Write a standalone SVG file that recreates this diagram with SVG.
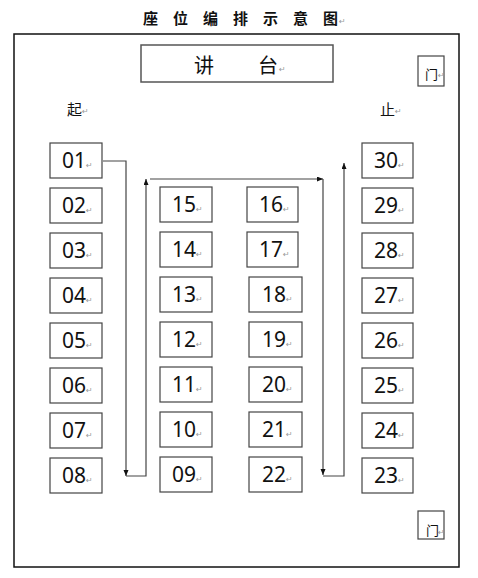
<svg xmlns="http://www.w3.org/2000/svg" width="478" height="578" viewBox="0 0 478 578">
<style>
.seat rect{fill:#fff;stroke:#444;stroke-width:1.2}
.seat text{font-family:"Noto Sans","DejaVu Sans",sans-serif;font-size:21px;fill:#111}
.rm{font-family:"DejaVu Sans",sans-serif;font-size:8px;fill:#999}
.cjk{font-family:"Noto Sans CJK SC","Noto Sans",sans-serif;fill:#111}
.conn path{fill:none;stroke:#444;stroke-width:1.2}
</style>
<defs>
<marker id="ah" markerUnits="userSpaceOnUse" markerWidth="7" markerHeight="6" refX="6" refY="2.5" orient="auto">
<path d="M0,0 L6,2.5 L0,5 z" fill="#111"/>
</marker>
</defs>
<rect width="478" height="578" fill="#fff"/>
<g id="title">
<text class="cjk" y="24" font-size="15" font-weight="bold"><tspan x="143">座</tspan><tspan x="173">位</tspan><tspan x="203">编</tspan><tspan x="233">排</tspan><tspan x="263">示</tspan><tspan x="293">意</tspan><tspan x="323">图</tspan></text>
<text class="rm" x="339" y="24">↵</text>
</g>
<rect id="frame" x="14" y="34" width="445" height="533" fill="none" stroke="#111" stroke-width="1.5"/>
<g id="podium">
<rect x="141" y="45" width="192" height="37" fill="#fff" stroke="#555" stroke-width="1.5"/>
<text class="cjk" font-size="20" y="73"><tspan x="194">讲</tspan><tspan x="258">台</tspan></text>
<text class="rm" x="279" y="72">↵</text>
</g>
<g id="door-top">
<rect x="418" y="56" width="26" height="30" fill="#fff" stroke="#444" stroke-width="1.2"/>
<text class="cjk" font-size="13" x="425" y="79">门</text>
<text class="rm" x="438" y="78">↵</text>
</g>
<g id="door-bottom">
<rect x="418" y="511" width="26" height="28" fill="#fff" stroke="#444" stroke-width="1.2"/>
<text class="cjk" font-size="13" x="426" y="535">门</text>
<text class="rm" x="438" y="535">↵</text>
</g>
<g id="start">
<text class="cjk" font-size="15" x="67" y="115">起</text>
<text class="rm" x="82" y="114">↵</text>
</g>
<g id="end">
<text class="cjk" font-size="15" x="380" y="115">止</text>
<text class="rm" x="395" y="114">↵</text>
</g>
<g class="seat" id="s01"><rect x="50" y="143" width="52" height="35"/><text x="62" y="168">01<tspan class="rm">↵</tspan></text></g>
<g class="seat" id="s02"><rect x="50" y="188" width="52" height="35"/><text x="62" y="213">02<tspan class="rm">↵</tspan></text></g>
<g class="seat" id="s03"><rect x="50" y="233" width="52" height="35"/><text x="62" y="258">03<tspan class="rm">↵</tspan></text></g>
<g class="seat" id="s04"><rect x="50" y="278" width="52" height="35"/><text x="62" y="303">04<tspan class="rm">↵</tspan></text></g>
<g class="seat" id="s05"><rect x="50" y="323" width="52" height="35"/><text x="62" y="348">05<tspan class="rm">↵</tspan></text></g>
<g class="seat" id="s06"><rect x="50" y="368" width="52" height="35"/><text x="62" y="393">06<tspan class="rm">↵</tspan></text></g>
<g class="seat" id="s07"><rect x="50" y="413" width="52" height="35"/><text x="62" y="438">07<tspan class="rm">↵</tspan></text></g>
<g class="seat" id="s08"><rect x="50" y="458" width="52" height="35"/><text x="62" y="483">08<tspan class="rm">↵</tspan></text></g>
<g class="seat" id="s15"><rect x="160" y="187" width="52" height="35"/><text x="172" y="212">15<tspan class="rm">↵</tspan></text></g>
<g class="seat" id="s14"><rect x="160" y="232" width="52" height="35"/><text x="172" y="257">14<tspan class="rm">↵</tspan></text></g>
<g class="seat" id="s13"><rect x="160" y="277" width="52" height="35"/><text x="172" y="302">13<tspan class="rm">↵</tspan></text></g>
<g class="seat" id="s12"><rect x="160" y="322" width="52" height="35"/><text x="172" y="347">12<tspan class="rm">↵</tspan></text></g>
<g class="seat" id="s11"><rect x="160" y="367" width="52" height="35"/><text x="172" y="392">11<tspan class="rm">↵</tspan></text></g>
<g class="seat" id="s10"><rect x="160" y="412" width="52" height="35"/><text x="172" y="437">10<tspan class="rm">↵</tspan></text></g>
<g class="seat" id="s09"><rect x="160" y="457" width="52" height="35"/><text x="172" y="482">09<tspan class="rm">↵</tspan></text></g>
<g class="seat" id="s16"><rect x="247" y="187" width="51" height="35"/><text x="259" y="212">16<tspan class="rm">↵</tspan></text></g>
<g class="seat" id="s17"><rect x="247" y="232" width="51" height="35"/><text x="259" y="257">17<tspan class="rm">↵</tspan></text></g>
<g class="seat" id="s18"><rect x="249" y="277" width="53" height="35"/><text x="262" y="302">18<tspan class="rm">↵</tspan></text></g>
<g class="seat" id="s19"><rect x="249" y="322" width="53" height="35"/><text x="262" y="347">19<tspan class="rm">↵</tspan></text></g>
<g class="seat" id="s20"><rect x="249" y="367" width="53" height="35"/><text x="262" y="392">20<tspan class="rm">↵</tspan></text></g>
<g class="seat" id="s21"><rect x="249" y="412" width="53" height="35"/><text x="262" y="437">21<tspan class="rm">↵</tspan></text></g>
<g class="seat" id="s22"><rect x="249" y="457" width="53" height="35"/><text x="262" y="482">22<tspan class="rm">↵</tspan></text></g>
<g class="seat" id="s30"><rect x="362" y="143" width="51" height="35"/><text x="374" y="168">30<tspan class="rm">↵</tspan></text></g>
<g class="seat" id="s29"><rect x="362" y="188" width="51" height="35"/><text x="374" y="213">29<tspan class="rm">↵</tspan></text></g>
<g class="seat" id="s28"><rect x="362" y="233" width="51" height="35"/><text x="374" y="258">28<tspan class="rm">↵</tspan></text></g>
<g class="seat" id="s27"><rect x="362" y="278" width="51" height="35"/><text x="374" y="303">27<tspan class="rm">↵</tspan></text></g>
<g class="seat" id="s26"><rect x="362" y="323" width="51" height="35"/><text x="374" y="348">26<tspan class="rm">↵</tspan></text></g>
<g class="seat" id="s25"><rect x="362" y="368" width="51" height="35"/><text x="374" y="393">25<tspan class="rm">↵</tspan></text></g>
<g class="seat" id="s24"><rect x="362" y="413" width="51" height="35"/><text x="374" y="438">24<tspan class="rm">↵</tspan></text></g>
<g class="seat" id="s23"><rect x="362" y="458" width="51" height="35"/><text x="374" y="483">23<tspan class="rm">↵</tspan></text></g>
<g class="conn" id="connectors">
<path d="M103,161 H126 V476" marker-end="url(#ah)"/>
<path d="M126,476 H146 V179" marker-end="url(#ah)"/>
<path d="M150,179 H323" marker-end="url(#ah)"/>
<path d="M323,179 V475" marker-end="url(#ah)"/>
<path d="M323,476 H344 V163" marker-end="url(#ah)"/>
</g>
</svg>
